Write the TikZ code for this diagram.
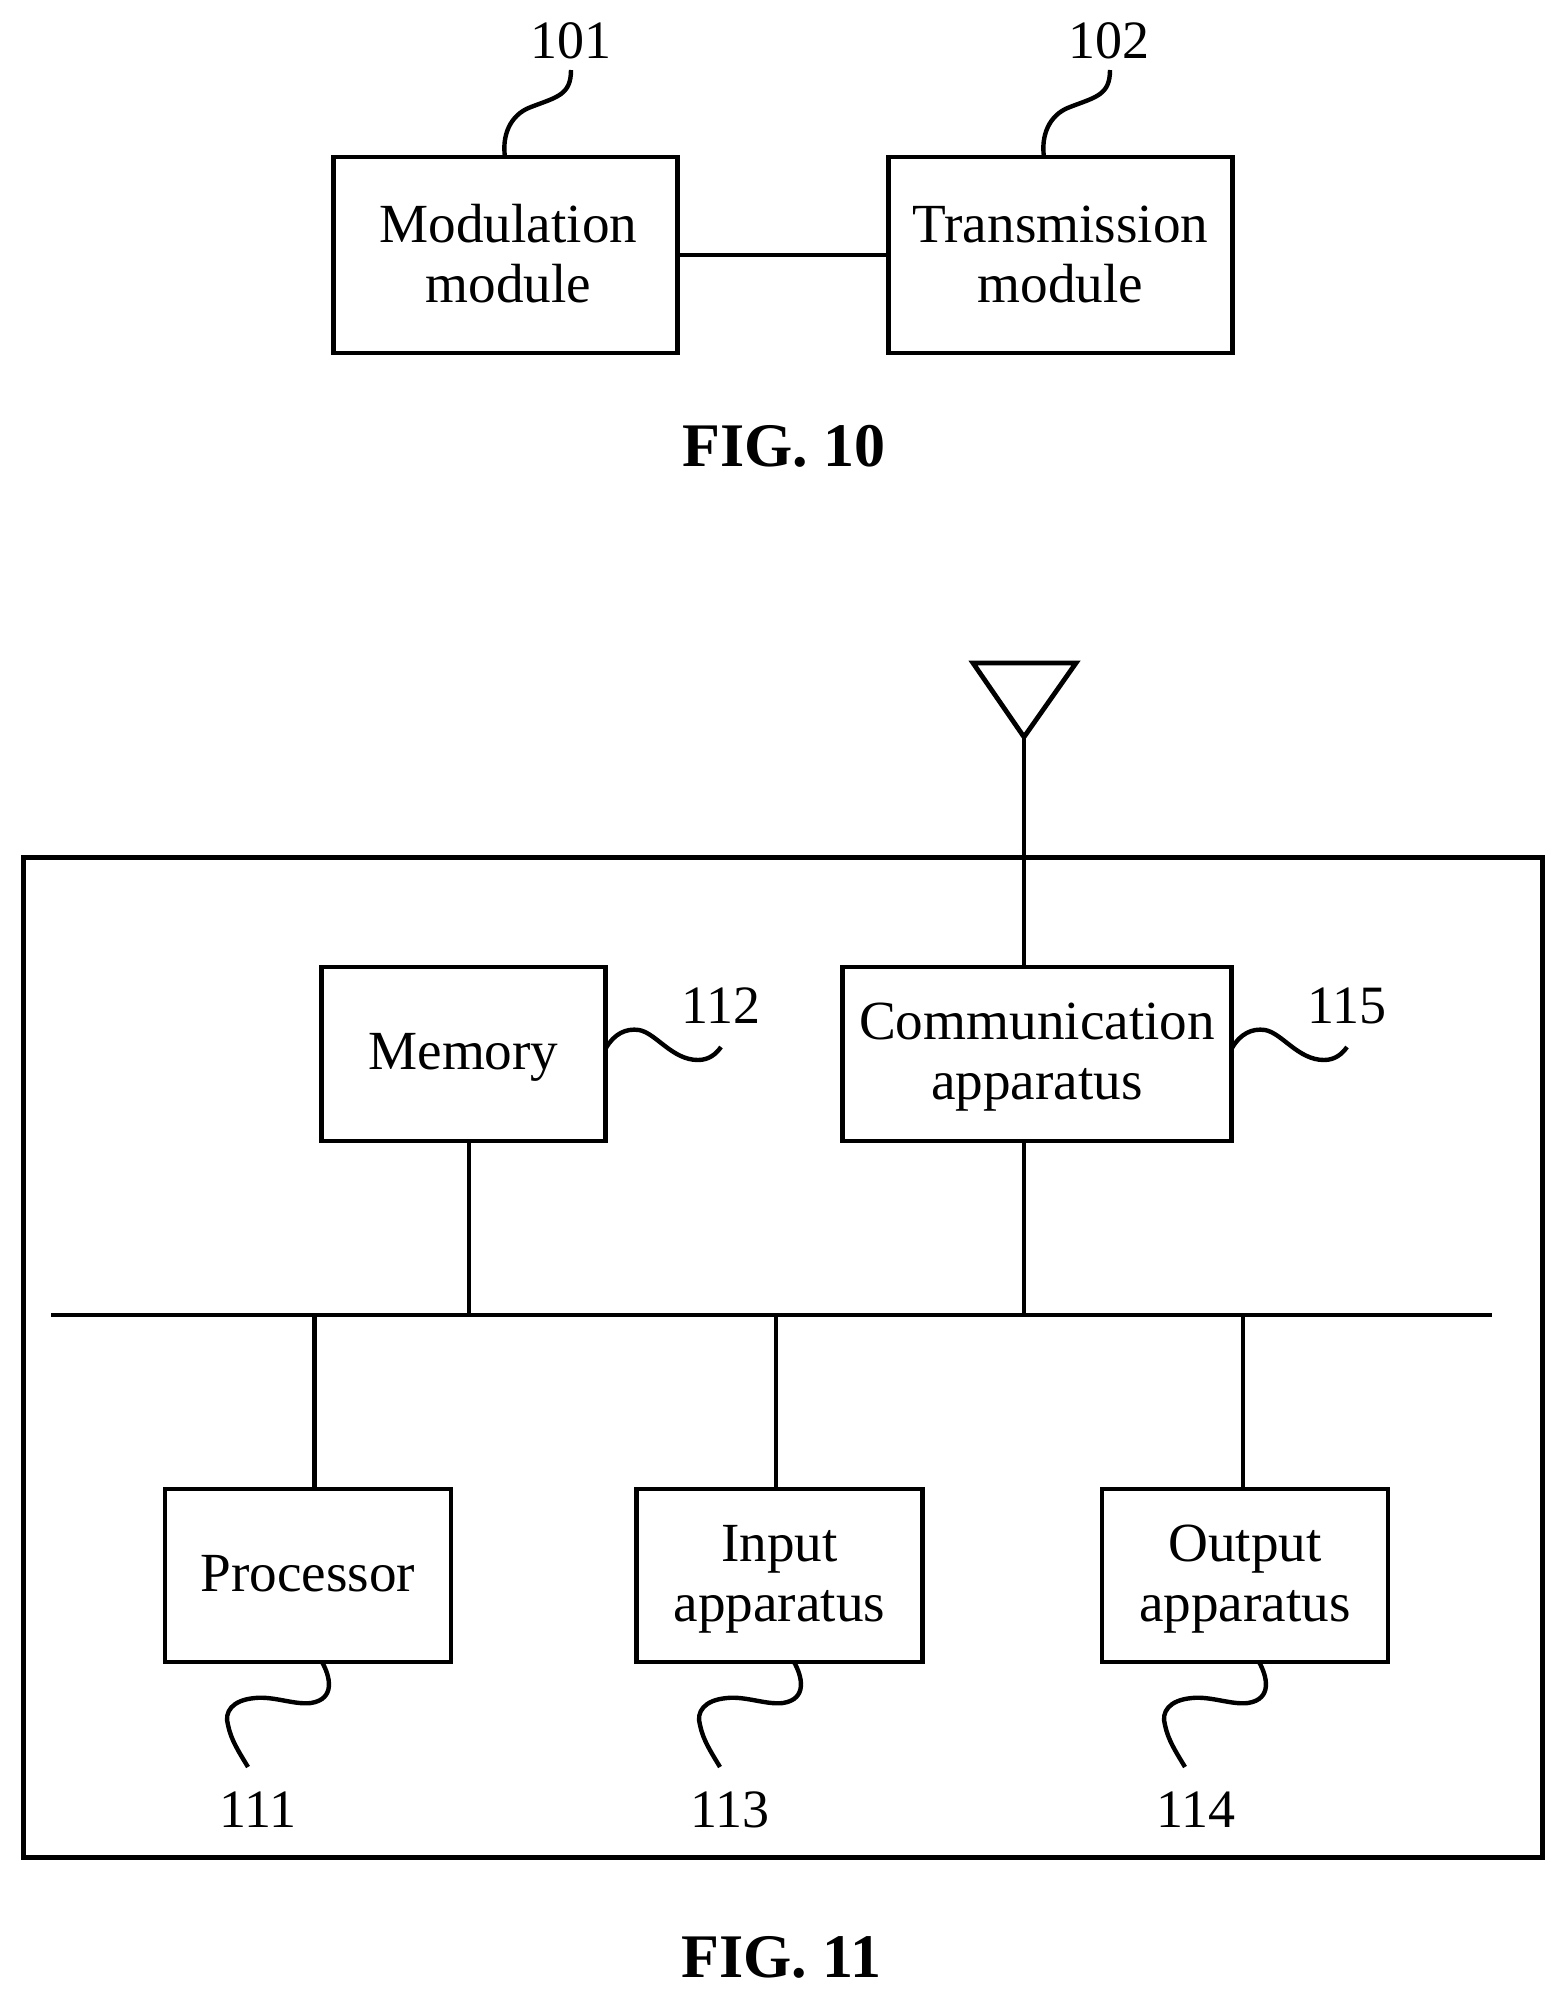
\documentclass[tikz,border=0pt]{standalone}
\usepackage{fontspec}
\setmainfont{Liberation Serif}
\usetikzlibrary{calc}
\newcommand{\lsa}{\vrule height 21.5pt depth 5.5pt width 0pt\relax}
\newcommand{\lsb}{\vrule height 22.5pt depth 5.5pt width 0pt\relax}
% lead line hanging under a box: #1 start coordinate, #2 end coordinate
\newcommand{\leadbelow}[2]{\draw[lead] (#1) .. controls ($(#1)+(8,14)$) and ($(#1)+(14,37)$) .. ($(#1)+(-11,41)$)
  .. controls ($(#1)+(-28,43)$) and ($(#1)+(-48,34)$) .. ($(#1)+(-67,36)$)
  .. controls ($(#1)+(-90,38)$) and ($(#1)+(-98,50)$) .. ($(#1)+(-94,63)$)
  .. controls ($(#1)+(-91,78)$) and ($(#1)+(-83,90)$) .. (#2);}
% lead line rising above a box
\newcommand{\leadabove}[2]{\draw[lead] (#1) .. controls ($(#1)+(-3,-20)$) and ($(#1)+(4,-42)$) .. ($(#1)+(26,-50)$)
  .. controls ($(#1)+(52,-60)$) and ($(#1)+(66,-62)$) .. (#2);}
% lead line leaving a box sideways
\newcommand{\leadside}[2]{\draw[lead] (#1) .. controls ($(#1)+(8,-14)$) and ($(#1)+(20,-20)$) .. ($(#1)+(33,-18)$)
  .. controls ($(#1)+(50,-15)$) and ($(#1)+(66,12)$) .. ($(#1)+(92,12)$)
  .. controls ($(#1)+(103,12)$) and ($(#1)+(110,6)$) .. (#2);}
\tikzset{
  every node/.style={text=black},
  box/.style={draw=black,line width=2.4pt,fill=white,rectangle,outer sep=0pt,inner sep=0pt,align=center,
    font=\fontsize{27.6}{30}\selectfont},
  boxtop/.style={box,minimum height=98pt},
  boxmid/.style={box,minimum height=87pt},
  boxlow/.style={box,minimum height=86.5pt,minimum width=143pt},
  frame/.style={draw=black,line width=2.5pt,rectangle,outer sep=0pt,inner sep=0pt,minimum width=759.5pt,minimum height=500pt},
  wire/.style={draw=black,line width=2.4pt},
  lead/.style={draw=black,line width=2.2pt},
  refnum/.style={anchor=base,inner sep=0pt,font=\fontsize{27}{30}\selectfont},
  figcap/.style={anchor=base,inner sep=0pt,font=\fontsize{31}{34}\selectfont\bfseries}
}
\begin{document}
\begin{tikzpicture}[x=0.5pt,y=-0.5pt]
\useasboundingbox (0,0) rectangle (1565,1998);

% FIG. 10
\node[boxtop,minimum width=172pt] (mod) at (505.5,255) {\lsb\hspace*{3pt}Modulation\\\lsb\hspace*{3pt}module};
\node[boxtop,minimum width=172pt] (trans) at (1060.5,255) {\lsb Transmission\\\lsb module};
\draw[wire] (mod.east) -- (trans.west);
\node[refnum] (n101) at (570.5,58) {101};
\node[refnum] (n102) at (1109,58) {102};
\coordinate (s101) at (505,157);
\coordinate (e101) at (571,70);
\coordinate (s102) at (1044,157);
\coordinate (e102) at (1110,70);
\leadabove{s101}{e101}
\leadabove{s102}{e102}
\node[figcap] (fig10) at (784,466) {FIG. 10};

% FIG. 11
\node[frame] (device) at (782.5,1357) {};
\coordinate (antL) at (973,663);
\coordinate (antR) at (1076,663);
\coordinate (antT) at (1024,737);
\draw[wire,line join=miter] (antL) -- (antR) -- (antT) -- cycle;

\node[boxmid,minimum width=142pt] (mem) at (463.5,1054) {\lsa Memory};
\node[boxmid,minimum width=194.5pt] (comm) at (1037,1054) {\lsa Communication\\\lsa apparatus};
\node[boxlow] (proc) at (308,1575.5) {\lsa Processor};
\node[boxlow] (inp) at (779.5,1575.5) {\lsa Input\\\lsa apparatus};
\node[boxlow] (outp) at (1245,1575.5) {\lsa Output\\\lsa apparatus};

\draw[wire] (antT) -- (comm.north -| antT);

\coordinate (busL) at (51,1315);
\coordinate (busR) at (1492,1315);
\draw[wire] (busL) -- (busR);
\coordinate (bm) at (469,1315);
\coordinate (bc) at (1024,1315);
\coordinate (bp) at (314.5,1315);
\coordinate (bi) at (776,1315);
\coordinate (bo) at (1243,1315);
\draw[wire] (mem.south -| bm) -- (bm);
\draw[wire] (comm.south -| bc) -- (bc);
\draw[wire] (proc.north -| bp) -- (bp);
\draw[wire] (inp.north -| bi) -- (bi);
\draw[wire] (outp.north -| bo) -- (bo);

\node[refnum] (n112) at (721,1023) {112};
\node[refnum] (n115) at (1347,1023) {115};
\node[refnum] (n111) at (258,1827) {111};
\node[refnum] (n113) at (730,1827) {113};
\node[refnum] (n114) at (1196,1827) {114};

\coordinate (s112) at (606,1048);
\coordinate (e112) at (721,1047);
\coordinate (s115) at (1232,1048);
\coordinate (e115) at (1347,1047);
\leadside{s112}{e112}
\leadside{s115}{e115}

\coordinate (s111) at (322,1662);
\coordinate (e111) at (248,1767);
\coordinate (s113) at (794,1662);
\coordinate (e113) at (720,1767);
\coordinate (s114) at (1259,1662);
\coordinate (e114) at (1185,1767);
\leadbelow{s111}{e111}
\leadbelow{s113}{e113}
\leadbelow{s114}{e114}

\node[figcap] (fig11) at (781.5,1977) {FIG. 11};
\end{tikzpicture}
\end{document}
